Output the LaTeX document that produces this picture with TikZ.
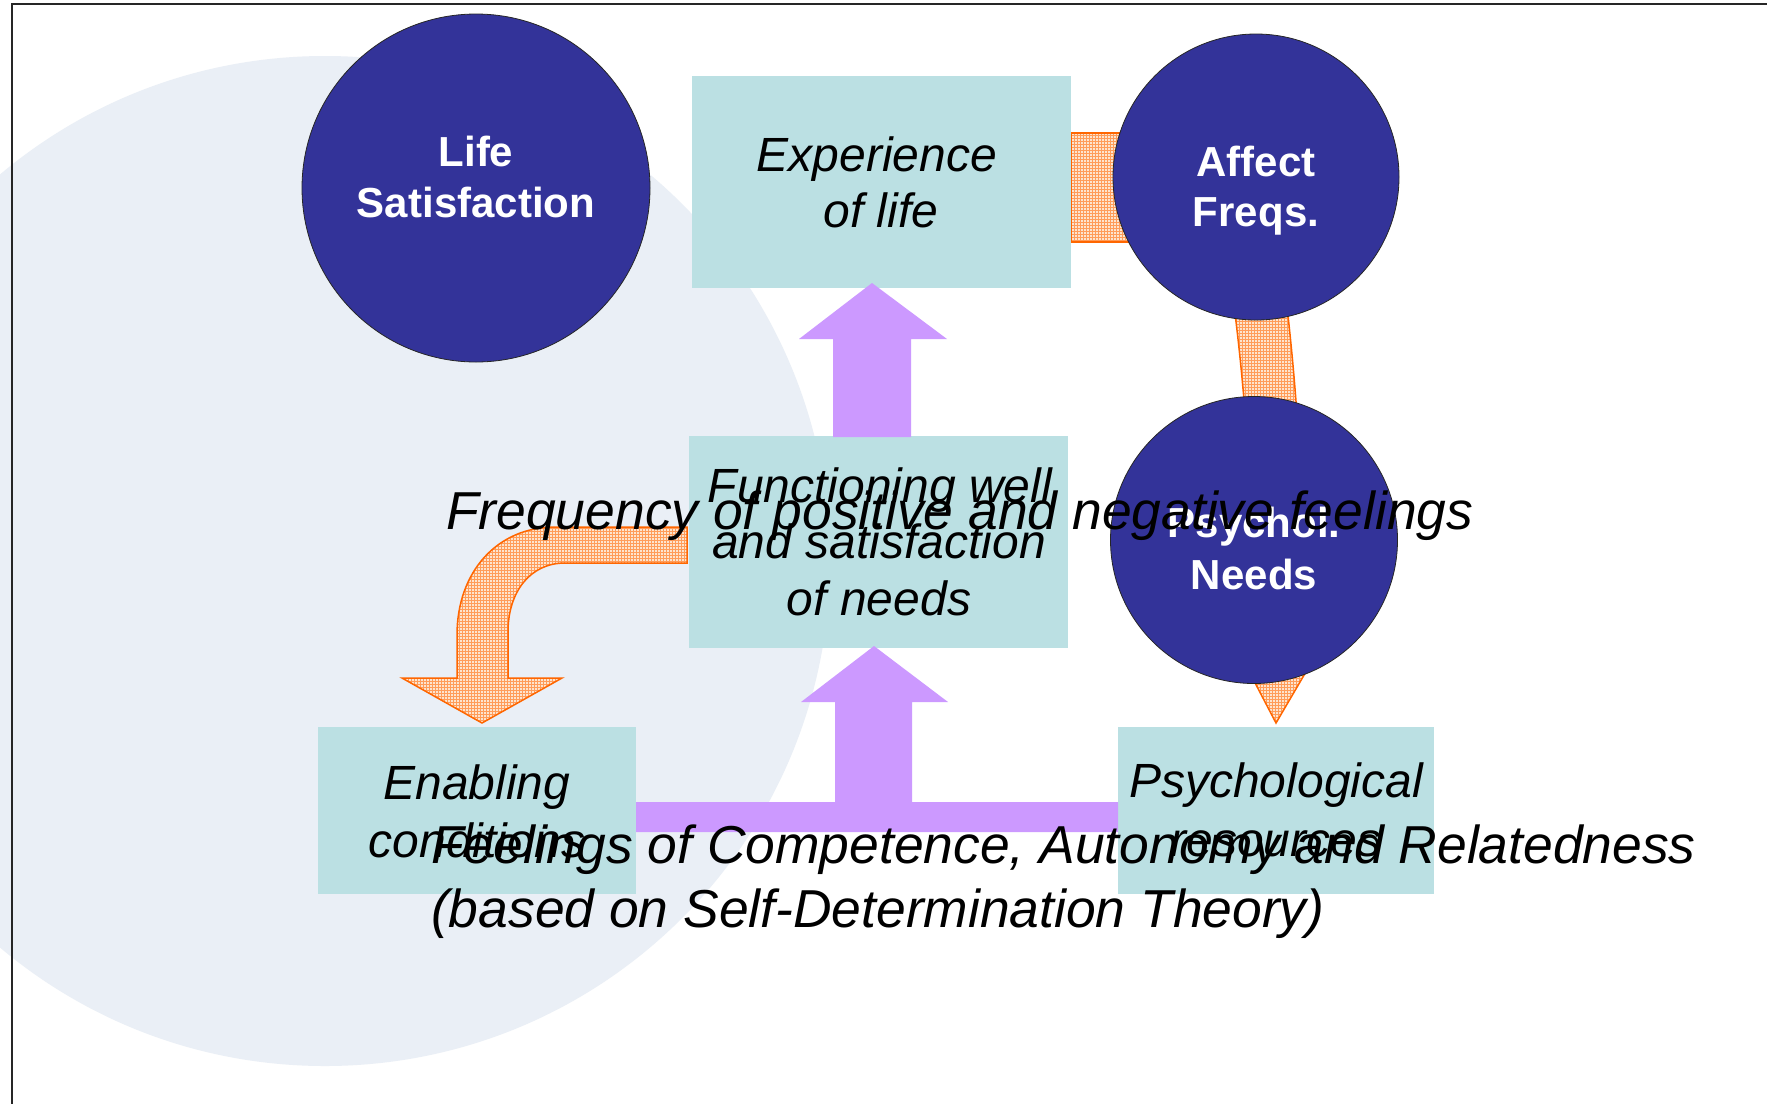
\documentclass[tikz,border=0pt]{standalone}
\usepackage{fontspec}
\setmainfont{Liberation Sans}
\usetikzlibrary{patterns}
\definecolor{navyc}{RGB}{51,51,153}
\definecolor{boxc}{RGB}{187,224,227}
\definecolor{lilac}{RGB}{204,153,255}
\definecolor{bgc}{RGB}{234,239,246}
\definecolor{orgc}{RGB}{255,102,0}
\definecolor{orgfill}{RGB}{253,228,206}
\begin{document}
\begin{tikzpicture}[x=1pt,y=-1pt,
  boxstyle/.style={fill=boxc,draw=none,inner sep=0pt,anchor=north west},
  circstyle/.style={circle,fill=navyc,draw=black!85,line width=0.8pt,inner sep=0pt},
  circtext/.style={anchor=base,text=white,inner sep=0pt,font=\fontsize{42}{50}\selectfont\bfseries},
  boxtext/.style={anchor=base,inner sep=0pt,font=\fontsize{48}{56}\selectfont\itshape},
  overtext/.style={anchor=base west,inner sep=0pt,font=\fontsize{53.4}{64}\selectfont\itshape},
  orangearrow/.style={draw=orgc,line width=1.5pt,line join=miter,preaction={fill=orgfill},pattern=grid,pattern color=orgc!65},
  purplearrow/.style={fill=lilac,draw=none}]
\useasboundingbox (0,0) rectangle (1767,1104);
\fill[white] (0,0) rectangle (1767,1104);
\begin{scope}
\clip (0,0) rectangle (1767,1104);
\fill[bgc] (325,561) circle[radius=505];
\end{scope}
\draw[line width=1.5pt,black!85] (1767,4) -- (12,4) -- (12,1104);

% orange arrows (behind)
\path[orangearrow] (1071,133) rectangle (1210,242);
\path[orangearrow] (1232,290) .. controls (1244,380) and (1252,480) .. (1254,612) -- (1218,612) -- (1276,723) -- (1341,612) -- (1305,612) .. controls (1303,480) and (1296,380) .. (1285,290) -- cycle;
\path[orangearrow] (687,527) -- (555,527) .. controls (497,527) and (457,572) .. (457,635) -- (457,678) -- (402,678) -- (482,723) -- (562,678) -- (508,678) -- (508,632) .. controls (508,592) and (530,563) .. (565,563) -- (687,563) -- cycle;

% boxes
\node[boxstyle,minimum width=379pt,minimum height=212pt] (exp) at (692,76) {};
\node[boxstyle,minimum width=379pt,minimum height=212pt] (func) at (689,436) {};
\node[boxstyle,minimum width=318pt,minimum height=167pt] (enab) at (318,727) {};
\node[boxstyle,minimum width=316pt,minimum height=167pt] (psyr) at (1118,727) {};

% purple arrows
\path[purplearrow] (833,437) -- (833,339) -- (799,339) -- (872,283) -- (947,339) -- (911,339) -- (911,437) -- cycle;
\path[purplearrow] (636,802) -- (835,802) -- (835,702) -- (801,702) -- (874,646) -- (948,702) -- (912,702) -- (912,802) -- (1118,802) -- (1118,832) -- (636,832) -- cycle;

% circles
\node[circstyle,minimum size=348pt] (life) at (476,188) {};
\node[circstyle,minimum size=286pt] (affect) at (1256,177) {};
\node[circstyle,minimum size=287pt] (needs) at (1254,540) {};

% circle texts
\node[circtext] (lifeA) at (476,166) {Life};
\node[circtext] (lifeB) at (476,217) {Satisfaction};
\node[circtext] (affA) at (1256,176) {Affect};
\node[circtext] (affB) at (1256,226) {Freqs.};
\node[circtext] (needA) at (1254,537) {Psychol.};
\node[circtext] (needB) at (1254,589) {Needs};

% box texts
\node[boxtext] (expA) at (877,171) {Experience};
\node[boxtext] (expB) at (881,227) {of life};
\node[boxtext] (funA) at (880,502) {Functioning well};
\node[boxtext] (funB) at (879,558) {and satisfaction};
\node[boxtext] (funC) at (879,615) {of needs};
\node[boxtext] (enA) at (477,799) {Enabling};
\node[boxtext] (enB) at (477,857) {conditions};
\node[boxtext] (psA) at (1276,797) {Psychological};
\node[boxtext] (psB) at (1276,856) {resources};

% overlay texts
\node[overtext] (freq) at (446,529) {Frequency of positive and negative feelings};
\node[overtext] (feelA) at (431,863) {Feelings of Competence, Autonomy and Relatedness};
\node[overtext] (feelB) at (431,927) {(based on Self-Determination Theory)};
\end{tikzpicture}
\end{document}
